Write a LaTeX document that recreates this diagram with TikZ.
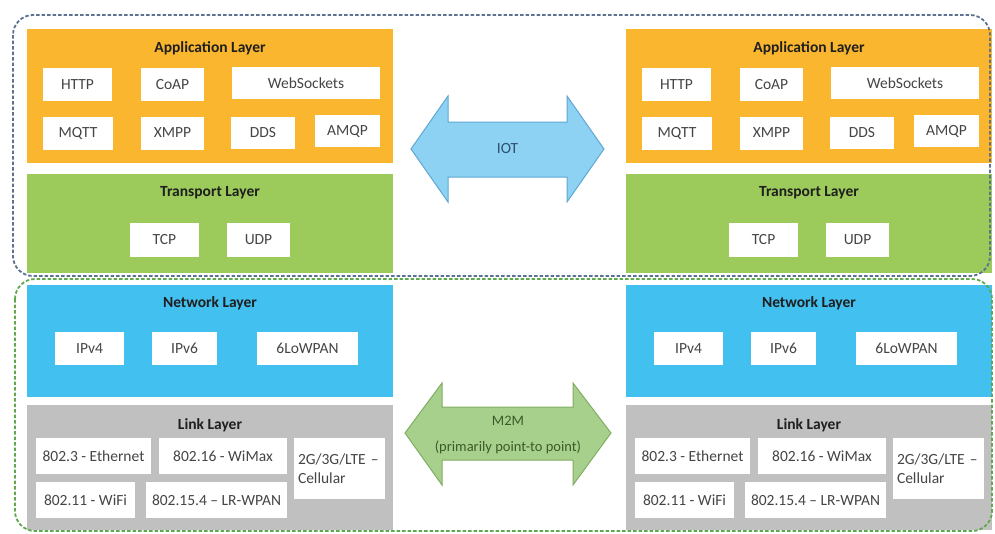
\documentclass[tikz,border=0pt]{standalone}
\usepackage{fontspec}
\setmainfont{Carlito}
\definecolor{appfill}{HTML}{F9B62E}
\definecolor{trafill}{HTML}{9CCA5B}
\definecolor{netfill}{HTML}{42C0EF}
\definecolor{lnkfill}{HTML}{C0C0C0}
\definecolor{boxtext}{HTML}{454545}
\definecolor{titletext}{HTML}{1F1F1F}
\definecolor{iotfill}{HTML}{8DD1F3}
\definecolor{iotline}{HTML}{5FA8D3}
\definecolor{iottext}{HTML}{2F4F6E}
\definecolor{mtmfill}{HTML}{A8D08D}
\definecolor{mtmline}{HTML}{7FAD62}
\definecolor{mtmtext}{HTML}{3B5A27}
\definecolor{iotdash}{HTML}{5C7290}
\definecolor{mtmdash}{HTML}{5FA84E}
\begin{document}
\begin{tikzpicture}[x=1pt,y=-1pt,
  layer/.style={rectangle, inner sep=0pt, anchor=north west, draw=none},
  ltitle/.style={font=\bfseries\fontsize{15.5}{17}\selectfont, text=titletext, inner sep=0pt},
  pbox/.style={rectangle, fill=white, inner sep=0pt, text=boxtext,
    font=\fontsize{15.5}{19}\selectfont},
  groupline/.style={line width=1.8pt, dash pattern=on 3.5pt off 2pt, rounded corners=20pt},
  bigarrow/.style={line width=1pt, line join=miter}]
\useasboundingbox (0,0) rectangle (995,533);

% protocol stacks, the same on both ends
\foreach \s/\dx in {L/0,R/599}{
  \begin{scope}[xshift=\dx pt]
  % layer bands
  \node[layer, fill=appfill, minimum width=366pt, minimum height=134pt] (\s-app) at (27,29) {};
  \node[layer, fill=trafill, minimum width=366pt, minimum height=99pt]  (\s-tra) at (27,174) {};
  \node[layer, fill=netfill, minimum width=366pt, minimum height=112pt] (\s-net) at (27,285) {};
  \node[layer, fill=lnkfill, minimum width=366pt, minimum height=125pt] (\s-lnk) at (27,405) {};
  % titles
  \node[ltitle] (\s-appt) at (210,48)  {Application Layer};
  \node[ltitle] (\s-trat) at (210,193) {Transport Layer};
  \node[ltitle] (\s-nett) at (210,303) {Network Layer};
  \node[ltitle] (\s-lnkt) at (210,425) {Link Layer};
  % application protocols
  \node[pbox, minimum width=69pt,  minimum height=33pt] (\s-http) at (77.5,84.5)  {HTTP};
  \node[pbox, minimum width=63pt,  minimum height=33pt] (\s-coap) at (172.5,84.5) {CoAP};
  \node[pbox, minimum width=148pt, minimum height=32pt] (\s-ws)   at (306,83)     {WebSockets};
  \node[pbox, minimum width=70pt,  minimum height=33pt] (\s-mqtt) at (78,133)     {MQTT};
  \node[pbox, minimum width=63pt,  minimum height=33pt] (\s-xmpp) at (172.5,133)  {XMPP};
  \node[pbox, minimum width=64pt,  minimum height=32pt] (\s-dds)  at (263,132.5)  {DDS};
  \node[pbox, minimum width=65pt,  minimum height=32pt] (\s-amqp) at (347.5,131)  {AMQP};
  % transport protocols
  \node[pbox, minimum width=69pt, minimum height=34pt] (\s-tcp) at (164.5,240) {TCP};
  \node[pbox, minimum width=63pt, minimum height=34pt] (\s-udp) at (258.5,240) {UDP};
  % network protocols
  \node[pbox, minimum width=69pt,  minimum height=33pt] (\s-ip4) at (89.5,348.5)  {IPv4};
  \node[pbox, minimum width=65pt,  minimum height=33pt] (\s-ip6) at (184.5,348.5) {IPv6};
  \node[pbox, minimum width=101pt, minimum height=33pt] (\s-low) at (307.5,348.5) {6LoWPAN};
  % link protocols
  \node[pbox, minimum width=115pt, minimum height=36pt] (\s-eth)  at (93.5,456)  {802.3 - Ethernet};
  \node[pbox, minimum width=128pt, minimum height=36pt] (\s-wmx)  at (223,456)   {802.16 - WiMax};
  \node[pbox, minimum width=99pt,  minimum height=36pt] (\s-wifi) at (85.5,500)  {802.11 - WiFi};
  \node[pbox, minimum width=141pt, minimum height=36pt] (\s-lr)   at (216.5,500) {802.15.4 -- LR-WPAN};
  \node[pbox, minimum width=91pt,  minimum height=61pt, text width=83pt, align=left]
    (\s-cell) at (339.5,468.5) {2G/3G/LTE --\\Cellular};
  \end{scope}
}

% IoT span: application and transport layers
\draw[groupline, draw=iotdash] (13,15) rectangle (990,276);
% M2M span: network and link layers
\draw[groupline, draw=mtmdash] (15,279) rectangle (992,531);

% IoT double arrow
\filldraw[bigarrow, fill=iotfill, draw=iotline]
  (411,149) -- (448,96) -- (448,122) -- (567,122) -- (567,96) -- (604,149)
  -- (567,202) -- (567,177) -- (448,177) -- (448,202) -- cycle;
\node[text=iottext, font=\fontsize{15.5}{17}\selectfont] (iot) at (507.5,149) {IOT};

% M2M double arrow
\filldraw[bigarrow, fill=mtmfill, draw=mtmline]
  (405,433) -- (442,383) -- (442,407) -- (573,407) -- (573,383) -- (611,433)
  -- (573,485) -- (573,460) -- (442,460) -- (442,485) -- cycle;
\node[text=mtmtext, align=center, font=\fontsize{14.5}{26}\selectfont] (m2m) at (508,435)
  {M2M\\(primarily point-to point)};
\end{tikzpicture}
\end{document}
